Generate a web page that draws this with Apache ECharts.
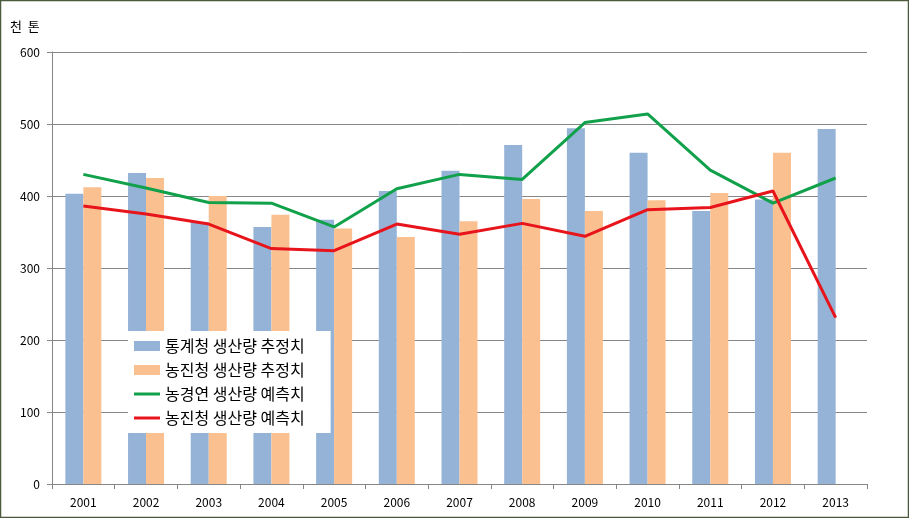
<!DOCTYPE html>
<html><head><meta charset="utf-8">
<script src="https://cdn.jsdelivr.net/npm/echarts@6/dist/echarts.min.js"></script>
<style>html,body{margin:0;padding:0;background:#fff}#c{width:909px;height:518px}</style>
</head><body><div id="c"></div>
<script>
const years = ['2001','2002','2003','2004','2005','2006','2007','2008','2009','2010','2011','2012','2013'];
const statsEst = [403,432,364,357,367,407,435,471,494,460,379,395,493];
const rdaEst = [412,425,400,374,355,343,365,396,379,394,404,460,null];
const kreiForecast = [430,411,391,390,357,410,430,423,502,514,436,390,425];
const rdaForecast = [386,375,361,327,324,361,347,362,344,381,384,407,231];
const yTicks = [0,100,200,300,400,500,600];

const font = '"Noto Sans CJK KR", "Noto Sans", sans-serif';
const lineIcon = 'path://M0,0H26V3H0Z';
const chart = echarts.init(document.getElementById('c'));
chart.setOption({
  animation: false,
  textStyle: {fontFamily: font},
  graphic: [
    {type:'rect', shape:{x:0.5,y:0.5,width:908,height:517}, style:{fill:'none', stroke:'#4b5a3c', lineWidth:1.5}, z:100},
    {type:'text', left:10, top:20, style:{text:'천  톤', font:'13px ' + font, fill:'#000'}}
  ],
  grid: {left:52, right:42, top:52, bottom:34, containLabel:false},
  legend: {
    orient:'vertical', left:128, top:331,
    backgroundColor:'#fff', padding:[7,26,7,6],
    itemWidth:26, itemHeight:10, itemGap:8,
    textStyle:{fontSize:16, lineHeight:16, color:'#000', fontFamily:font},
    data:[
      {name:'통계청 생산량 추정치', icon:'rect'},
      {name:'농진청 생산량 추정치', icon:'rect'},
      {name:'농경연 생산량 예측치', icon:lineIcon},
      {name:'농진청 생산량 예측치', icon:lineIcon}
    ]
  },
  xAxis: {
    type:'category', data: years,
    axisLine:{lineStyle:{color:'#868686'}},
    axisTick:{show:true, length:5, lineStyle:{color:'#868686'}},
    axisLabel:{color:'#000', fontSize:12, margin:12}
  },
  yAxis: {
    type:'value', min:0, max:600, interval:100,
    axisLine:{show:true, lineStyle:{color:'#868686'}},
    axisTick:{show:true, length:5, lineStyle:{color:'#868686'}},
    axisLabel:{color:'#000', fontSize:12, margin:12,
      formatter: v => yTicks.includes(v) ? String(v) : ''},
    splitLine:{lineStyle:{color:'#868686'}}
  },
  series: [
    {name:'통계청 생산량 추정치', type:'bar', data: statsEst, barWidth:18, barGap:'0%',
      itemStyle:{color:'#95b3d7'}},
    {name:'농진청 생산량 추정치', type:'bar', data: rdaEst, barWidth:18, barGap:'0%',
      itemStyle:{color:'#fac090'}},
    {name:'농경연 생산량 예측치', type:'line', data: kreiForecast, symbol:'none',
      lineStyle:{color:'#12a14b', width:3}, itemStyle:{color:'#12a14b'}, z:3},
    {name:'농진청 생산량 예측치', type:'line', data: rdaForecast, symbol:'none',
      lineStyle:{color:'#e8141b', width:3}, itemStyle:{color:'#e8141b'}, z:3}
  ]
});
</script></body></html>
